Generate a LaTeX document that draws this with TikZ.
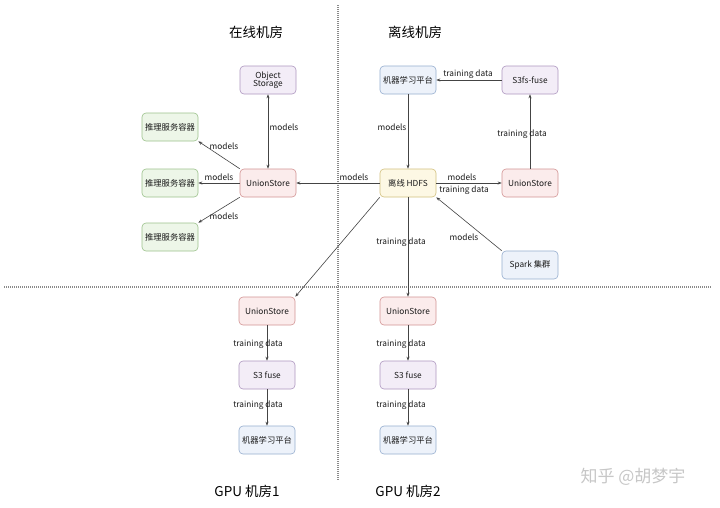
\documentclass[tikz,border=0pt]{standalone}
\usepackage{fontspec}
\setmainfont{Noto Sans CJK SC}
\usetikzlibrary{arrows.meta}
\definecolor{purF}{HTML}{F3EDF7}\definecolor{purD}{HTML}{AE97C0}
\definecolor{grnF}{HTML}{EDF6E8}\definecolor{grnD}{HTML}{9CC28C}
\definecolor{redF}{HTML}{FBECEC}\definecolor{redD}{HTML}{D39494}
\definecolor{yelF}{HTML}{FDF8E4}\definecolor{yelD}{HTML}{D2C07E}
\definecolor{bluF}{HTML}{EDF2FA}\definecolor{bluD}{HTML}{96AECF}
\definecolor{lineC}{HTML}{444444}
\definecolor{sepC}{HTML}{8A8A8A}
\tikzset{
  box/.style={draw, rounded corners=4pt, minimum width=56pt, minimum height=28pt,
    inner sep=1pt, align=center, line width=0.6pt, text=black!90,
    font=\fontsize{8.3}{9.5}\selectfont},
  purbox/.style={box, fill=purF, draw=purD},
  grnbox/.style={box, fill=grnF, draw=grnD},
  redbox/.style={box, fill=redF, draw=redD},
  yelbox/.style={box, fill=yelF, draw=yelD},
  blubox/.style={box, fill=bluF, draw=bluD},
  arr/.style={draw=lineC, line width=0.6pt, -{Stealth[length=4pt,width=3pt]}},
  darr/.style={draw=lineC, line width=0.6pt, {Stealth[length=4pt,width=3pt]}-{Stealth[length=4pt,width=3pt]}},
  lbl/.style={inner sep=0pt, text=black!90, font=\fontsize{8.3}{9.5}\selectfont},
  ttl/.style={inner sep=0pt, text=black, font=\fontsize{13.5}{15}\selectfont},
  sep/.style={draw=sepC, line width=1.2pt, dash pattern=on 1pt off 1pt}
}
\begin{document}
\begin{tikzpicture}[x=1pt,y=-1pt]
\useasboundingbox (0,0) rectangle (720,507);
\fill[white] (0,0) rectangle (720,507);

% separators
\coordinate (vtop) at (338,5);
\coordinate (vbot) at (338,480);
\coordinate (hl) at (4,287);
\coordinate (hr) at (712,287);
\draw[sep] (vtop) -- (vbot);
\draw[sep] (hl) -- (hr);

% titles
\node[ttl] (t1) at (256,32) {在线机房};
\node[ttl] (t2) at (415,32) {离线机房};
\node[ttl] (t3) at (247,491) {GPU 机房1};
\node[ttl] (t4) at (408,491) {GPU 机房2};
\node[inner sep=0pt, text=black!22, font=\fontsize{17}{19}\selectfont] (wm) at (633,477) {知乎 @胡梦宇};

% online
\node[purbox] (os) at (268,80) {Object\\[-1pt]Storage};
\node[grnbox] (inf1) at (170,127) {推理服务容器};
\node[grnbox] (inf2) at (170,183) {推理服务容器};
\node[grnbox] (inf3) at (170,237) {推理服务容器};
\node[redbox] (us1) at (268,183) {UnionStore};

% offline
\node[blubox] (ml0) at (408,80) {机器学习平台};
\node[purbox] (s3fs) at (530,80) {S3fs-fuse};
\node[yelbox] (hdfs) at (408,183) {离线 HDFS};
\node[redbox] (us2) at (530,183) {UnionStore};
\node[blubox] (spark) at (530,265) {Spark 集群};

% GPU 1
\node[redbox] (us3) at (267,311) {UnionStore};
\node[purbox] (s31) at (267,375) {S3 fuse};
\node[blubox] (ml1) at (267,440) {机器学习平台};

% GPU 2
\node[redbox] (us4) at (408,311) {UnionStore};
\node[purbox] (s32) at (408,375) {S3 fuse};
\node[blubox] (ml2) at (408,440) {机器学习平台};

% connectors online
\draw[darr] (os) -- (us1);
\draw[arr] (us1.north west) -- (inf1.south east);
\draw[arr] (us1) -- (inf2);
\draw[arr] (us1.south west) -- (inf3.north east);
\draw[arr] (hdfs) -- (us1);

% connectors offline
\draw[arr] (s3fs) -- (ml0);
\draw[arr] (ml0) -- (hdfs);
\draw[arr] (us2) -- (s3fs);
\draw[arr] (hdfs) -- (us2);
\draw[arr] (spark.north west) -- (hdfs.south east);

% to GPU rooms
\draw[arr] (hdfs.south west) -- (us3.north east);
\draw[arr] (hdfs) -- (us4);
\draw[arr] (us3) -- (s31);
\draw[arr] (s31) -- (ml1);
\draw[arr] (us4) -- (s32);
\draw[arr] (s32) -- (ml2);

% labels
\node[lbl] (l1) at (284,127) {models};
\node[lbl] (l2) at (224,146) {models};
\node[lbl] (l3) at (219,177) {models};
\node[lbl] (l4) at (224,216) {models};
\node[lbl] (l5) at (354,177) {models};
\node[lbl] (l6) at (468,74) {training data};
\node[lbl] (l7) at (392,127) {models};
\node[lbl] (l8) at (522,134) {training data};
\node[lbl] (l9) at (462,177) {models};
\node[lbl] (l10) at (464,190) {training data};
\node[lbl] (l11) at (464,237) {models};
\node[lbl] (l12) at (401,242) {training data};
\node[lbl] (l13) at (258,344) {training data};
\node[lbl] (l14) at (258,405) {training data};
\node[lbl] (l15) at (401,344) {training data};
\node[lbl] (l16) at (401,405) {training data};
\end{tikzpicture}
\end{document}
